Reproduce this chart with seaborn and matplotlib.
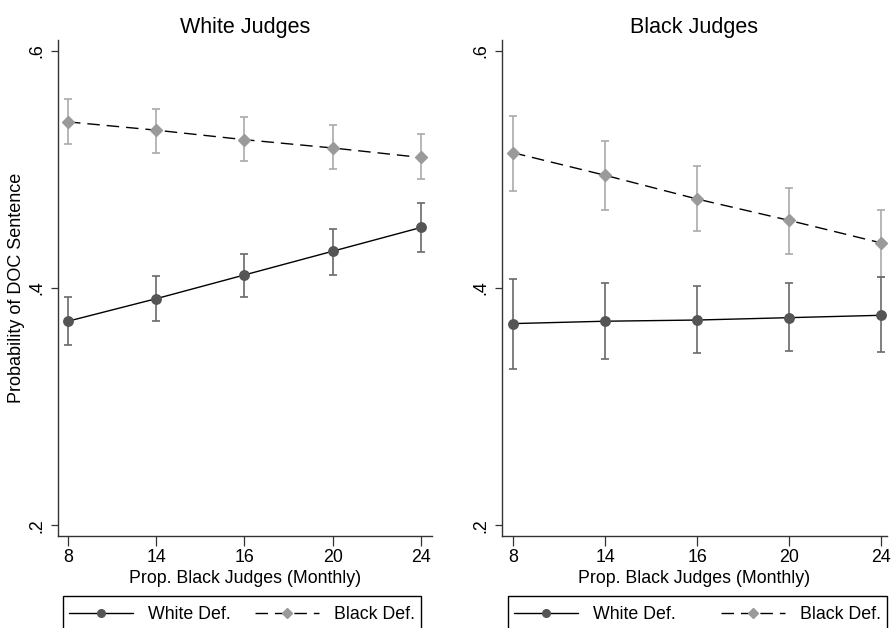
import numpy as np
import pandas as pd
import matplotlib
matplotlib.use("Agg")
import matplotlib.pyplot as plt
import seaborn as sns
from matplotlib.lines import Line2D
from matplotlib.patches import Rectangle

# x categories (equally spaced)
prop_black = ["8", "14", "16", "20", "24"]

# White judges panel
wj_white = [0.372, 0.391, 0.411, 0.431, 0.451]
wj_white_lo = [0.352, 0.372, 0.392, 0.411, 0.430]
wj_white_hi = [0.392, 0.410, 0.429, 0.450, 0.472]
wj_black = [0.540, 0.533, 0.525, 0.518, 0.510]
wj_black_lo = [0.521, 0.514, 0.507, 0.500, 0.492]
wj_black_hi = [0.559, 0.551, 0.544, 0.537, 0.530]

# Black judges panel
bj_white = [0.370, 0.372, 0.373, 0.375, 0.377]
bj_white_lo = [0.332, 0.340, 0.345, 0.347, 0.346]
bj_white_hi = [0.408, 0.404, 0.402, 0.404, 0.409]
bj_black = [0.514, 0.495, 0.475, 0.457, 0.438]
bj_black_lo = [0.482, 0.466, 0.448, 0.429, 0.409]
bj_black_hi = [0.545, 0.524, 0.503, 0.484, 0.466]

sns.set_style("white")
plt.rcParams["font.family"] = ["Liberation Sans", "DejaVu Sans"]
plt.rcParams["text.color"] = "black"
plt.rcParams["axes.labelcolor"] = "black"
plt.rcParams["xtick.color"] = "black"
plt.rcParams["ytick.color"] = "black"

dark = "#555555"
light = "#9a9a9a"
fs = 12.8
W, H = 893, 628

fig = plt.figure(figsize=(8.93, 6.28), dpi=100)
ax1 = fig.add_axes([58 / W, 92 / H, 374 / W, 496 / H])
ax2 = fig.add_axes([502 / W, 92 / H, 385 / W, 496 / H])

# panel: axes, title, series..., x limits, legend frame (left px, right px)
panels = [
    (ax1, "White Judges", wj_white, wj_white_lo, wj_white_hi, wj_black, wj_black_lo, wj_black_hi,
     (-0.113, 4.125), (63, 421)),
    (ax2, "Black Judges", bj_white, bj_white_lo, bj_white_hi, bj_black, bj_black_lo, bj_black_hi,
     (-0.12, 4.065), (508, 887)),
]

pos = np.arange(len(prop_black))
dash = (9, 5)

for ax, title, w, wlo, whi, b, blo, bhi, xl, lf in panels:
    df = pd.DataFrame({
        "pos": np.concatenate([pos, pos]),
        "prob": w + b,
        "group": ["White Def."] * len(pos) + ["Black Def."] * len(pos),
    })
    # confidence intervals
    ax.errorbar(pos, b, yerr=[np.subtract(b, blo), np.subtract(bhi, b)], fmt="none",
                ecolor="#aaaaaa", elinewidth=1.2, capsize=3, capthick=1.2, zorder=2)
    ax.errorbar(pos, w, yerr=[np.subtract(w, wlo), np.subtract(whi, w)], fmt="none",
                ecolor="#6a6a6a", elinewidth=1.2, capsize=3, capthick=1.2, zorder=2)
    sns.lineplot(data=df, x="pos", y="prob", hue="group", style="group",
                 palette={"White Def.": "black", "Black Def.": "black"},
                 dashes={"White Def.": "", "Black Def.": dash},
                 markers=False, linewidth=1.0, legend=False, ax=ax, zorder=3)
    ax.plot(pos, w, linestyle="none", marker="o", markersize=6.8, color=dark, zorder=4)
    ax.plot(pos, b, linestyle="none", marker="D", markersize=6.5, color=light, zorder=4)

    ax.set_xlim(*xl)
    ax.set_ylim(0.191, 0.609)
    ax.set_xticks(pos)
    ax.set_xticklabels(prop_black, fontsize=fs)
    ax.set_yticks([0.2, 0.4, 0.6])
    ax.set_yticklabels([".2", ".4", ".6"], fontsize=fs, rotation=90, va="center")
    ax.set_title(title, fontsize=15.5, pad=5)
    ax.set_xlabel("Prop. Black Judges (Monthly)", fontsize=fs, labelpad=3)
    ax.set_ylabel("")
    for s in ["top", "right"]:
        ax.spines[s].set_visible(False)
    for s in ["left", "bottom"]:
        ax.spines[s].set_color("#333333")
        ax.spines[s].set_linewidth(1.0)
    ax.tick_params(axis="x", bottom=True, length=7, width=0.9, color="#333333", pad=2)
    ax.tick_params(axis="y", left=True, length=5, width=0.9, color="#333333", pad=4)

    # legend box runs off the bottom edge, as in the original
    fig.patches.append(Rectangle((lf[0] / W, -0.05), (lf[1] - lf[0]) / W, 0.05 + (H - 596) / H,
                                 transform=fig.transFigure, fill=False,
                                 edgecolor="black", linewidth=1.0))
    handles = [
        Line2D([], [], color="black", lw=1.0, marker="o", markersize=5.5,
               markerfacecolor=dark, markeredgecolor=dark),
        Line2D([], [], color="black", lw=1.0, linestyle=(0, dash), marker="D", markersize=5.5,
               markerfacecolor=light, markeredgecolor=light),
    ]
    ax.legend(handles, ["White Def.", "Black Def."], ncol=2,
              loc="upper left", mode="expand",
              bbox_to_anchor=(lf[0] / W, 1 - 600 / H - 0.05, (lf[1] - lf[0]) / W, 0.05),
              bbox_transform=fig.transFigure, borderaxespad=0,
              fontsize=fs, handlelength=3.6, handletextpad=0.85,
              columnspacing=1.6, frameon=False, borderpad=0.35)

ax1.set_ylabel("Probability of DOC Sentence", fontsize=13)
ax1.yaxis.set_label_coords(-0.088, 0.5)

fig.savefig("out.png", dpi=100)
